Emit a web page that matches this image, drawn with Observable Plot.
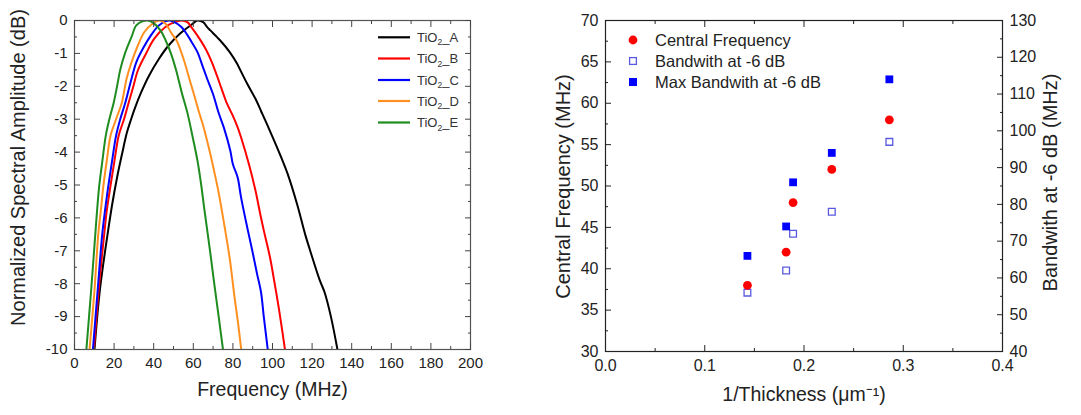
<!DOCTYPE html>
<html><head><meta charset="utf-8">
<script src="https://cdn.jsdelivr.net/npm/d3@7"></script>
<script src="https://cdn.jsdelivr.net/npm/@observablehq/plot@0.6"></script>
<style>
body{margin:0;background:#fff;}
#wrap{position:relative;width:1081px;height:415px;font-family:"Liberation Sans",Arial,sans-serif;}
#wrap > svg{position:absolute;top:0;}
</style></head><body><div id="wrap"></div>
<script>
// ---------- Left panel data: normalized spectra ----------
const seriesNames = ["TiO2_A", "TiO2_B", "TiO2_C", "TiO2_D", "TiO2_E"];
const seriesColors = ["#000000", "#ff0000", "#0000ff", "#ff9020", "#1e8c1e"];

const freqA = [10.1, 12.8, 16.7, 19.0, 21.5, 24.0, 26.5, 28.6, 30.6, 33.7, 37.7, 42.6, 47.5, 53.2, 59.7, 62.0, 65.0, 67.0, 68.6, 73.5, 78.4, 82.0, 84.5, 87.3, 91.4, 94.2, 98.3, 104.4, 107.7, 112.5, 116.5, 119.0, 123.9, 126.3, 129.5, 132.8];
const dbA   = [-10, -8.2, -6.5, -5.6, -4.77, -4.06, -3.4, -3.0, -2.65, -2.18, -1.67, -1.17, -0.76, -0.4, -0.1, 0, -0.05, -0.2, -0.3, -0.6, -0.96, -1.3, -1.6, -1.93, -2.38, -2.75, -3.3, -4.16, -4.67, -5.6, -6.5, -6.99, -7.9, -8.26, -9.0, -10];

const freqB = [9.8, 12.2, 15.0, 16.3, 18.2, 20.2, 22.3, 25.0, 27.2, 29.6, 32.0, 36.1, 40.2, 45.9, 50.5, 54.0, 57.0, 59.0, 62.1, 66.2, 69.4, 71.9, 74.3, 76.7, 80.0, 82.4, 84.1, 88.1, 91.4, 93.8, 95.6, 98.7, 101.1, 103.6, 106.3];
const dbB   = [-10, -8.2, -6.5, -5.78, -5.02, -4.26, -3.5, -3.0, -2.53, -2.03, -1.52, -1.01, -0.56, -0.2, -0.05, 0, -0.05, -0.2, -0.46, -0.86, -1.27, -1.67, -2.08, -2.48, -2.9, -3.25, -3.55, -4.37, -5.17, -5.88, -6.38, -7.19, -8.0, -8.9, -10];

const freqC = [9.3, 11.7, 14.0, 15.4, 17.1, 19.0, 21.0, 23.1, 25.5, 28.8, 31.2, 34.5, 38.5, 42.6, 47.5, 50.5, 54.0, 57.2, 59.7, 62.1, 64.6, 67.0, 70.2, 72.7, 75.4, 78.7, 80.0, 82.4, 84.1, 86.5, 88.0, 89.8, 92.2, 94.2, 95.6, 97.6];
const dbC   = [-10, -8.2, -6.5, -5.78, -5.02, -4.26, -3.5, -3.0, -2.53, -1.77, -1.27, -0.86, -0.46, -0.15, 0, -0.05, -0.2, -0.46, -0.71, -0.96, -1.37, -1.77, -2.28, -2.79, -3.25, -3.96, -4.37, -4.77, -5.37, -6.08, -6.5, -7.0, -7.7, -8.26, -9.0, -10];

const freqD = [7.6, 10.1, 12.0, 13.3, 14.6, 16.3, 18.2, 21.0, 23.9, 26.3, 28.8, 32.0, 35.3, 39.4, 43.0, 46.0, 49.1, 51.5, 53.9, 55.6, 58.0, 60.5, 62.9, 65.0, 68.6, 70.6, 72.7, 75.2, 78.2, 79.4, 80.8, 82.4, 84.2];
const dbD   = [-10, -8.2, -6.5, -5.78, -5.02, -4.26, -3.5, -3.0, -2.5, -1.77, -1.27, -0.76, -0.35, -0.1, 0, -0.1, -0.4, -0.6, -0.96, -1.27, -1.77, -2.28, -2.79, -3.2, -4.06, -4.6, -5.2, -6.05, -7.15, -7.7, -8.4, -9.1, -10];

const freqE = [6.0, 8.4, 10.5, 11.4, 12.5, 14.1, 15.8, 17.6, 19.8, 21.5, 23.1, 25.5, 28.8, 31.2, 34.5, 37.0, 40.0, 43.4, 46.0, 49.0, 51.5, 54.2, 57.0, 59.7, 62.1, 64.0, 65.5, 67.2, 69.0, 70.8, 72.7, 75.0];
const dbE   = [-10, -8.2, -6.5, -5.78, -5.02, -4.26, -3.5, -3.0, -2.5, -2.0, -1.5, -1.0, -0.5, -0.15, -0.02, 0, -0.08, -0.3, -0.6, -1.05, -1.55, -2.2, -2.8, -3.55, -4.26, -5.0, -5.7, -6.45, -7.25, -8.1, -8.95, -10];

const freqTicks = [0, 20, 40, 60, 80, 100, 120, 140, 160, 180, 200];
const dbTicks = [-10, -9, -8, -7, -6, -5, -4, -3, -2, -1, 0];

// ---------- Right panel data ----------
const invThickness = [0.143, 0.182, 0.189, 0.228, 0.286];
const centralFreq = [38, 42, 48, 52, 58];
const bandwidth6dB = [56, 62, 72, 78, 97];
const maxBandwidth6dB = [66, 74, 86, 94, 114];
const invThickTicks = [0.0, 0.1, 0.2, 0.3, 0.4];
const cfTicks = [30, 35, 40, 45, 50, 55, 60, 65, 70];
const bwTicks = [40, 50, 60, 70, 80, 90, 100, 110, 120, 130];
const legendRight = ["Central Frequency", "Bandwith at -6 dB", "Max Bandwith at -6 dB"];

// ---------- build rows ----------
const FONT = '"Liberation Sans", Arial, sans-serif';
const curveSets = [[freqA, dbA], [freqB, dbB], [freqC, dbC], [freqD, dbD], [freqE, dbE]];
const curveRows = curveSets.flatMap(([f, d], k) => f.map((v, i) => ({series: seriesNames[k], f: v, db: d[i]})));

const mids = a => a.slice(0, -1).map((v, i) => (v + a[i + 1]) / 2);
const blank = () => "";

function axesXY(xMajor, yMajor, xFmt, yFmt, fs, tickColor, yRightMajor, yRightFmt) {
  const xMinor = mids(xMajor), yMinor = mids(yMajor);
  const m = [
    Plot.axisX(xMajor, {anchor: "bottom", tickSize: -6, tickPadding: 14, tickFormat: xFmt, label: null, fontSize: fs, stroke: tickColor}),
    Plot.axisX(xMinor, {anchor: "bottom", tickSize: -3, tickFormat: blank, label: null, stroke: tickColor}),
    Plot.axisX(xMajor, {anchor: "top", tickSize: -6, tickFormat: blank, label: null, stroke: tickColor}),
    Plot.axisX(xMinor, {anchor: "top", tickSize: -3, tickFormat: blank, label: null, stroke: tickColor}),
    Plot.axisY(yMajor, {anchor: "left", tickSize: -6, tickPadding: 13, tickFormat: yFmt, label: null, fontSize: fs, stroke: tickColor}),
    Plot.axisY(yMinor, {anchor: "left", tickSize: -3, tickFormat: blank, label: null, stroke: tickColor})
  ];
  if (yRightMajor) {
    const yrMinor = mids(yRightMajor);
    m.push(
      Plot.axisY(yRightMajor, {anchor: "right", tickSize: -6, tickPadding: 13, tickFormat: yRightFmt, label: null, fontSize: fs, stroke: tickColor}),
      Plot.axisY(yrMinor, {anchor: "right", tickSize: -3, tickFormat: blank, label: null, stroke: tickColor})
    );
  } else {
    m.push(
      Plot.axisY(yMajor, {anchor: "right", tickSize: -6, tickFormat: blank, label: null, stroke: tickColor}),
      Plot.axisY(yMinor, {anchor: "right", tickSize: -3, tickFormat: blank, label: null, stroke: tickColor})
    );
  }
  return m;
}

// ---------- Left plot ----------
const left = Plot.plot({
  width: 540, height: 415,
  marginLeft: 74, marginRight: 70, marginTop: 20, marginBottom: 66,
  style: {fontFamily: FONT, fontSize: "15px", color: "#222", background: "transparent", overflow: "visible"},
  x: {domain: [0, 200], axis: null},
  y: {domain: [-10, 0], axis: null},
  color: {domain: seriesNames, range: seriesColors},
  marks: [
    Plot.line(curveRows, {x: "f", y: "db", z: "series", stroke: "series", strokeWidth: 2, curve: "catmull-rom", clip: true}),
    Plot.frame({stroke: "#555", strokeWidth: 1.2}),
    ...axesXY(freqTicks, dbTicks, d => String(d), d => String(d), 15, "#444"),
    Plot.text(["Frequency (MHz)"], {text: d => d, frameAnchor: "bottom", dy: 46, fontSize: 19.5, fill: "#222"}),
    Plot.text(["Normalized Spectral Amplitude (dB)"], {text: d => d, frameAnchor: "left", textAnchor: "middle", rotate: -90, dx: -56, dy: -17.5, fontSize: 20, fill: "#222"})
  ]
});
left.style.left = "0px";

// ---------- Right plot ----------
const bwToY = b => 30 + (b - 40) * 40 / 90;
const yToBw = v => Math.round(40 + (v - 30) * 90 / 40);
const cfRows = invThickness.map((x, i) => ({x, y: centralFreq[i]}));
const bwRows = invThickness.map((x, i) => ({x, y: bwToY(bandwidth6dB[i])}));
const maxRows = invThickness.map((x, i) => ({x, y: bwToY(maxBandwidth6dB[i])}));

const right = Plot.plot({
  width: 541, height: 415,
  marginLeft: 65, marginRight: 79, marginTop: 20, marginBottom: 64,
  style: {fontFamily: FONT, fontSize: "16px", color: "#222", background: "transparent", overflow: "visible"},
  x: {domain: [0, 0.4], axis: null},
  y: {domain: [30, 70], axis: null},
  marks: [
    Plot.frame({stroke: "#222", strokeWidth: 1.2}),
    ...axesXY(invThickTicks, cfTicks, d3.format(".1f"), d => String(d), 16, "#222", bwTicks.map(bwToY), yToBw),
    Plot.dot(bwRows, {x: "x", y: "y", symbol: "square", r: 3.8, stroke: "#5a5ae0", fill: "none", strokeWidth: 1.3}),
    Plot.dot(maxRows, {x: "x", y: "y", symbol: "square", r: 4.4, fill: "#0000ff", stroke: "none"}),
    Plot.dot(cfRows, {x: "x", y: "y", symbol: "circle", r: 4.4, fill: "#ff0000", stroke: "none"}),
    Plot.text(["1/Thickness (\u03bcm\u207b\u00b9)"], {text: d => d, frameAnchor: "bottom", dy: 49, fontSize: 19.5, fill: "#222"}),
    Plot.text(["Central Frequency (MHz)"], {text: d => d, frameAnchor: "left", textAnchor: "middle", rotate: -90, dx: -42, dy: 0.5, fontSize: 20, fill: "#222"}),
    Plot.text(["Bandwith at -6 dB (MHz)"], {text: d => d, frameAnchor: "right", textAnchor: "middle", rotate: -90, dx: 48, dy: -3.5, fontSize: 20, fill: "#222"})
  ]
});
right.style.left = "540px";

const wrap = document.getElementById("wrap");
wrap.appendChild(left);
wrap.appendChild(right);

// ---------- Legends (overlay) ----------
const ov = d3.select(wrap).append("svg")
  .attr("width", 1081).attr("height", 415)
  .style("left", "0px").style("pointer-events", "none")
  .style("font-family", FONT);

const lgY = [37.3, 58.5, 80, 101, 122.5];
seriesNames.forEach((name, i) => {
  ov.append("line").attr("x1", 378).attr("x2", 410).attr("y1", lgY[i]).attr("y2", lgY[i])
    .attr("stroke", seriesColors[i]).attr("stroke-width", 2.2);
  const t = ov.append("text").attr("x", 417).attr("y", lgY[i] + 4.5).attr("font-size", 13).attr("fill", "#333");
  t.append("tspan").text("TiO");
  t.append("tspan").attr("font-size", 8.5).attr("dy", 3.5).text("2");
  t.append("tspan").attr("dy", -3.5).text("_" + name.slice(-1));
});

const rgY = [40, 61, 82];
ov.append("circle").attr("cx", 633).attr("cy", rgY[0]).attr("r", 4.4).attr("fill", "#ff0000");
ov.append("rect").attr("x", 629.6).attr("y", rgY[1] - 3.4).attr("width", 6.8).attr("height", 6.8)
  .attr("fill", "none").attr("stroke", "#5a5ae0").attr("stroke-width", 1.3);
ov.append("rect").attr("x", 629).attr("y", rgY[2] - 4).attr("width", 8).attr("height", 8).attr("fill", "#0000ff");
legendRight.forEach((s, i) => {
  ov.append("text").attr("x", 655).attr("y", rgY[i] + 6).attr("font-size", 16.5).attr("fill", "#222").text(s);
});
</script></body></html>
